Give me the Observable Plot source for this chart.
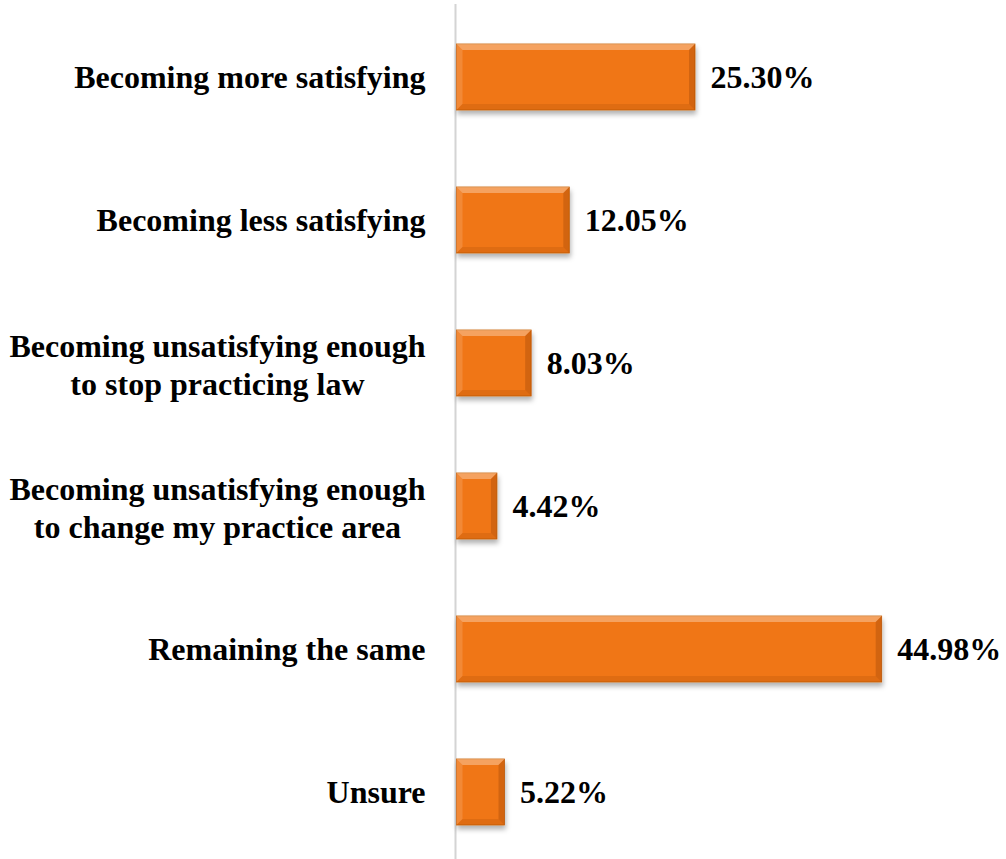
<!DOCTYPE html>
<html>
<head>
<meta charset="utf-8">
<script src="https://cdn.jsdelivr.net/npm/d3@7"></script>
<script src="https://cdn.jsdelivr.net/npm/@observablehq/plot@0.6"></script>
<style>
  html, body { margin: 0; padding: 0; background: #fff; overflow: hidden; }
</style>
</head>
<body>
<div id="chart"></div>
<script>
const categories = [
  "Becoming more satisfying",
  "Becoming less satisfying",
  "Becoming unsatisfying enough\nto stop practicing law",
  "Becoming unsatisfying enough\nto change my practice area",
  "Remaining the same",
  "Unsure"
];
const values = [25.30, 12.05, 8.03, 4.42, 44.98, 5.22];
const valueLabels = ["25.30%", "12.05%", "8.03%", "4.42%", "44.98%", "5.22%"];

const data = categories.map((c, i) => ({category: c, value: values[i], label: valueLabels[i]}));

const FONT = "'Liberation Serif', 'Times New Roman', serif";
const FS = 32;
const ctx = document.createElement("canvas").getContext("2d");
ctx.font = `bold ${FS}px ${FONT}`;

const labelMarks = data.map(d => {
  const lines = d.category.split("\n");
  if (lines.length === 1) {
    return Plot.text([d], {y: "category", text: "category", frameAnchor: "left", textAnchor: "end", dx: -30,
      fontWeight: "bold", fontSize: FS, fill: "#000"});
  }
  const w = Math.max(...lines.map(l => ctx.measureText(l).width));
  return Plot.text([d], {y: "category", text: "category", frameAnchor: "left", textAnchor: "middle", dx: -30 - w / 2,
    fontWeight: "bold", fontSize: FS, fill: "#000", lineHeight: 1.2});
});

const chart = Plot.plot({
  width: 1006,
  height: 864,
  marginLeft: 455,
  marginRight: 76.7,
  marginTop: 4,
  marginBottom: 0,
  style: {fontFamily: FONT, background: "#fff"},
  x: {domain: [0, 50], axis: null},
  y: {domain: categories, axis: null, paddingInner: 0.54, paddingOuter: 0.27},
  marks: [
    Plot.ruleX([0], {stroke: "#d4d4d4", strokeWidth: 2}),
    Plot.barX(data, {y: "category", x: "value", fill: "#F07612", stroke: "#C9620E", strokeWidth: 0.8, insetLeft: 1.5}),
    Plot.text(data, {y: "category", x: "value", text: "label", textAnchor: "start", dx: 15,
      fontWeight: "bold", fontSize: FS, fill: "#000"}),
    ...labelMarks
  ]
});

const svg = d3.select(chart);
const defs = svg.insert("defs", ":first-child");
const f = defs.append("filter").attr("id", "shadow").attr("x", "-10%").attr("y", "-20%").attr("width", "130%").attr("height", "170%");
f.append("feDropShadow").attr("dx", 1).attr("dy", 4).attr("stdDeviation", 2.5).attr("flood-color", "#000").attr("flood-opacity", 0.3);

const barGroup = chart.querySelector("g[aria-label='bar']");
if (barGroup) {
  barGroup.setAttribute("filter", "url(#shadow)");
  const bevel = svg.append("g").attr("aria-label", "bevel");
  barGroup.querySelectorAll("rect").forEach(r => {
    const x = +r.getAttribute("x"), y = +r.getAttribute("y");
    const w = +r.getAttribute("width"), h = +r.getAttribute("height");
    const b = 6;
    const x2 = x + w, y2 = y + h;
    const poly = (pts, fill, op) => bevel.append("polygon")
      .attr("points", pts.map(p => p.join(",")).join(" ")).attr("fill", fill).attr("fill-opacity", op);
    poly([[x, y], [x2, y], [x2 - b, y + b], [x + b, y + b]], "#fff", 0.32);
    poly([[x, y], [x + b, y + b], [x + b, y2 - b], [x, y2]], "#fff", 0.14);
    poly([[x, y2], [x + b, y2 - b], [x2 - b, y2 - b], [x2, y2]], "#7a3300", 0.14);
    poly([[x2, y], [x2, y2], [x2 - b, y2 - b], [x2 - b, y + b]], "#7a3300", 0.26);
  });
}

document.getElementById("chart").appendChild(chart);
</script>
</body>
</html>
